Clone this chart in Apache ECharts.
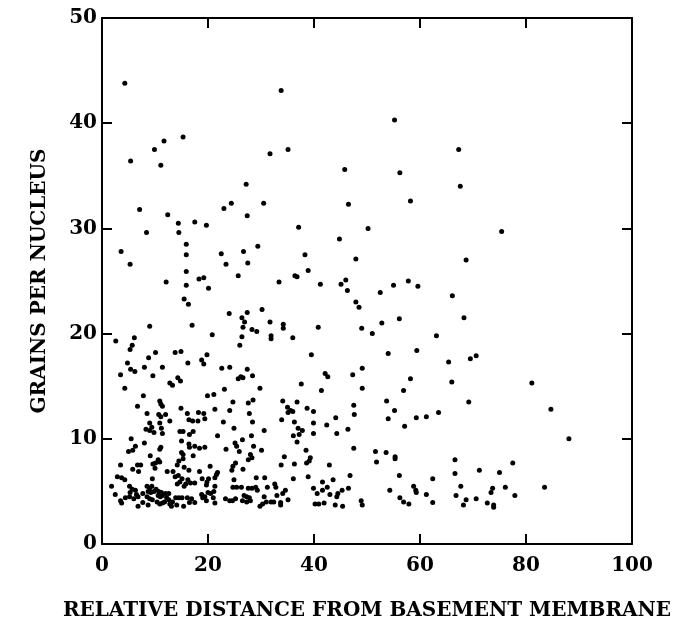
<!DOCTYPE html>
<html>
<head>
<meta charset="utf-8">
<script src="https://cdn.jsdelivr.net/npm/echarts@6/dist/echarts.min.js"></script>
<style>html,body{margin:0;padding:0;background:#fff;}#chart{width:686px;height:627px;}</style>
</head>
<body>
<div id="chart"></div>
<script>
// Axis labels
const xTitle = 'RELATIVE DISTANCE FROM BASEMENT MEMBRANE';
const yTitle = 'GRAINS PER NUCLEUS';
const xTicks = [0, 20, 40, 60, 80, 100];
const yTicks = [0, 10, 20, 30, 40, 50];

// [relative distance, grains per nucleus]
const pointsUpper = [
[4.3,43.8],[33.8,43.1],[15.3,38.7],[11.7,38.3],[9.9,37.5],[5.4,36.4],[11.1,36.0],[31.7,37.1],[35.1,37.5],
[45.8,35.6],[27.2,34.2],[46.5,32.3],[24.4,32.4],[30.5,32.4],[7.1,31.8],[23.0,31.9],[55.2,40.3],[67.3,37.5],
[56.2,35.3],[67.6,34.0],[58.2,32.6]
];
const pointsMiddle = [
[12.4,31.3],[14.4,30.5],[17.5,30.6],[19.7,30.3],[27.4,31.2],[8.4,29.6],[14.5,29.6],[37.1,30.1],[50.2,30.0],
[15.9,28.5],[44.8,29.0],[3.6,27.8],[15.9,27.5],[22.5,27.6],[26.7,27.8],[29.4,28.3],[5.3,26.6],[23.4,26.6],
[27.5,26.7],[38.3,27.5],[47.9,27.1],[15.9,25.9],[38.9,26.0],[25.7,25.5],[36.4,25.5],[36.8,25.4],[18.3,25.2],
[19.2,25.3],[12.1,24.9],[33.4,24.9],[15.9,24.6],[20.1,24.3],[41.2,24.7],[45.1,24.7],[46.0,25.1],[46.3,24.1],
[15.5,23.3],[16.3,22.8],[47.9,23.0],[48.5,22.5],[24.0,21.9],[27.4,22.0],[30.2,22.3],[26.4,21.5],[26.9,21.1],
[31.7,21.1],[34.2,20.9],[34.2,20.5],[40.8,20.6],[49.0,20.5],[9.0,20.7],[17.0,20.8],[26.6,20.6],[28.3,20.4],
[29.2,20.2],[31.9,19.8],[31.9,19.5],[36.0,19.6],[20.8,19.9],[26.4,19.7],[2.6,19.3],[6.1,19.6],[5.7,18.9],
[5.3,18.5],[26.0,18.9],[10.1,18.2],[13.8,18.2],[14.9,18.3],[8.8,17.7],[19.8,18.0],[18.8,17.5],[19.2,17.1],
[39.5,18.0],[4.8,17.2],[16.2,17.2],[5.4,16.6],[6.2,16.4],[8.0,16.8],[11.4,16.8],[22.6,16.7],[24.1,16.8],
[27.4,16.6],[49.1,16.7],[3.5,16.1],[9.6,16.0],[14.3,15.8],[25.7,15.7],[26.2,15.9],[26.6,15.8],[28.4,16.0],
[42.1,16.2],[42.6,15.9],[47.3,16.1],
[75.4,29.7],[68.7,27.0],[57.8,25.0],[55.0,24.6],[59.6,24.5],[52.5,23.9],[66.1,23.6],[56.1,21.4],[52.8,21.0],
[68.3,21.5],[51.0,20.0],[63.1,19.8],[54.0,18.1],[59.4,18.4],[65.4,17.3],[69.5,17.6],[70.6,17.9],[58.2,15.7]
];
const pointsLowerRight = [
[29.8,14.8],[37.6,15.2],[41.4,14.6],[49.1,14.8],[56.9,14.6],[53.7,13.6],[55.2,12.7],[54.0,11.9],[57.1,11.2],
[59.3,12.0],[61.2,12.1],[63.5,12.5],[34.1,13.6],[35.0,13.0],[35.6,12.7],[35.1,12.5],[36.0,12.6],[36.8,13.5],
[38.7,12.9],[39.9,12.6],[33.9,11.8],[36.3,11.6],[39.9,11.5],[44.1,12.0],[47.5,13.2],[47.6,12.3],[30.6,10.8],
[37.0,11.0],[37.8,10.8],[37.2,10.4],[36.1,10.3],[39.9,10.5],[42.4,11.3],[44.3,10.5],[46.4,10.9],[36.8,9.7],
[30.1,8.9],[38.5,8.9],[34.4,8.3],[39.3,8.2],[39.1,7.9],[38.6,7.7],[33.8,7.5],[36.3,7.6],[42.9,7.5],
[47.5,9.1],[51.6,8.8],[53.6,8.7],[55.3,8.3],[55.3,8.1],[51.8,7.8],[38.9,6.4],[36.1,6.2],[30.7,6.3],
[46.8,6.5],[43.6,6.1],[56.1,6.5],[62.4,6.2],[31.2,5.4],[32.6,5.7],[32.8,5.4],[34.6,5.1],[34.1,4.8],
[39.9,5.3],[41.6,5.9],[42.5,5.4],[41.6,5.1],[40.6,4.8],[43.0,4.7],[44.5,4.8],[44.3,4.5],[45.3,5.1],
[46.5,5.3],[33.0,4.6],[30.6,4.5],[31.0,4.0],[31.9,4.0],[32.4,4.0],[33.7,3.95],[33.7,3.7],[35.1,4.2],
[40.2,3.8],[40.9,3.8],[41.9,3.9],[44.0,3.7],[45.4,3.6],[48.9,4.1],[49.1,3.7],[54.3,5.1],[56.2,4.4],
[56.9,4.0],[57.9,3.8],[58.8,5.5],[59.2,5.1],[59.3,4.9],[61.2,4.7],[62.4,3.95],[29.8,3.6],
[66.0,15.4],[81.1,15.3],[69.2,13.5],[84.7,12.8],[88.1,10.0],[66.6,8.0],[66.6,6.7],[71.2,7.0],[75.0,6.8],
[77.5,7.7],[67.7,5.5],[66.8,4.6],[68.7,4.2],[68.2,3.7],[70.6,4.3],[72.7,3.9],[73.4,4.9],[73.7,5.3],
[73.9,3.7],[73.9,3.5],[76.1,5.4],[77.9,4.6],[83.5,5.4]
];
const pointsLowerLeft = [
[12.8,15.3],[13.3,15.1],[14.8,15.5],[4.3,14.8],[7.8,14.1],[6.7,13.1],[10.9,13.6],[11.1,13.3],[11.4,13.1],
[10.7,12.3],[11.1,12.1],[12.0,12.3],[8.5,12.4],[9.0,11.5],[10.9,11.5],[12.8,11.7],[8.3,10.9],[9.0,10.8],
[9.4,11.1],[9.8,10.6],[11.2,11.0],[11.4,10.5],[14.9,12.9],[16.1,12.4],[16.4,11.8],[17.1,11.7],[18.2,12.5],
[19.2,12.4],[19.4,11.9],[18.1,11.7],[21.3,12.8],[19.9,14.1],[21.1,14.2],[23.1,14.7],[24.7,13.5],[27.6,13.4],
[28.5,13.7],[24.1,12.7],[27.8,12.4],[28.4,11.6],[22.9,11.6],[24.9,11.0],[14.7,10.7],[15.3,10.7],[16.5,10.4],
[17.2,10.7],[21.8,10.3],[5.5,10.0],[6.3,9.3],[8.0,9.6],[15.0,9.8],[11.1,9.2],[16.4,9.5],[16.5,9.2],
[17.5,9.3],[18.4,9.1],[19.4,9.2],[25.1,9.6],[25.4,9.3],[26.5,9.9],[28.2,10.3],[28.6,9.3],[5.0,8.8],
[5.8,8.9],[9.1,8.4],[10.9,9.0],[15.0,8.7],[15.3,8.5],[15.3,8.1],[14.5,7.9],[17.2,8.4],[23.4,9.0],
[25.9,8.8],[28.0,8.5],[28.3,8.2],[27.6,8.0],[10.6,8.0],[10.9,7.8],[10.1,7.7],[3.5,7.5],[6.7,7.5],
[7.3,7.5],[9.6,7.6],[10.0,7.2],[5.8,7.1],[6.9,6.9],[14.2,7.5],[15.5,7.3],[20.4,7.4],[24.7,7.4],
[25.2,7.7],[26.6,7.1],[12.3,6.9],[13.4,6.9],[16.4,7.0],[18.4,6.9],[21.8,6.8],[24.5,7.0],[2.9,6.4],
[3.7,6.3],[4.3,6.1],[9.5,6.2],[14.4,6.5],[15.1,6.2],[13.8,6.4],[16.2,6.1],[14.7,5.9],[14.2,5.7],
[15.8,5.7],[15.5,5.5],[16.7,5.8],[17.5,5.8],[18.9,6.2],[20.1,6.2],[19.8,5.9],[19.7,5.6],[21.3,6.3],
[21.6,6.6],[21.3,5.5],[24.9,6.1],[29.1,6.3],[1.8,5.5],[5.2,5.5],[5.7,5.2],[5.3,4.9],[5.2,4.5],
[6.3,5.1],[6.5,4.7],[6.8,4.5],[6.0,4.3],[2.5,4.7],[3.5,4.1],[3.7,3.9],[4.4,4.4],[6.8,3.6],
[7.7,3.95],[7.7,4.8],[8.5,5.5],[9.0,5.3],[9.4,5.5],[8.7,5.0],[9.2,4.9],[9.8,5.0],[8.5,4.5],
[9.0,4.3],[9.5,4.2],[8.7,3.7],[10.2,5.2],[10.7,5.0],[11.2,4.9],[10.6,4.6],[11.0,4.5],[11.4,4.6],
[10.4,4.0],[10.9,3.8],[11.4,3.9],[11.8,4.0],[12.2,4.4],[12.6,4.2],[12.8,3.8],[13.1,3.6],[13.3,4.0],
[12.0,4.8],[12.6,4.8],[13.9,4.4],[14.5,4.4],[15.1,4.4],[14.1,3.7],[15.4,3.6],[16.1,4.4],[16.9,4.3],
[16.5,3.95],[17.5,3.95],[18.8,4.7],[19.0,4.4],[19.4,4.5],[20.0,4.9],[19.7,4.1],[20.5,4.8],[21.1,5.0],
[21.0,4.4],[21.3,3.9],[23.3,4.3],[24.1,4.1],[24.6,4.1],[25.2,4.3],[24.7,5.4],[25.4,5.4],[26.3,5.4],
[26.8,4.6],[27.3,4.5],[27.8,4.4],[26.5,4.1],[27.3,4.0],[28.0,4.1],[27.6,5.3],[28.3,5.3],[29.0,5.4],
[29.3,5.1],[30.3,3.8]
];

const allPoints = pointsUpper.concat(pointsMiddle, pointsLowerRight, pointsLowerLeft);

const FONT = 'DejaVu Serif';
const labelStyle = {fontFamily: FONT, fontWeight: 'bold', fontSize: 20, color: '#000'};
const lineStyle = {color: '#000', width: 2};

function frameAxis(extra) {
  return Object.assign({
    type: 'value',
    axisLine: {show: true, onZero: false, lineStyle: lineStyle},
    axisTick: {show: true, inside: true, length: 10, lineStyle: lineStyle},
    splitLine: {show: false}
  }, extra);
}

const chart = echarts.init(document.getElementById('chart'), null, {renderer: 'canvas'});
chart.setOption({
  animation: false,
  backgroundColor: '#fff',
  grid: {left: 102, right: 54, top: 18, bottom: 83},
  xAxis: [
    frameAxis({position: 'bottom', min: xTicks[0], max: xTicks[xTicks.length - 1], interval: 20,
      axisLabel: Object.assign({margin: 12}, labelStyle),
      name: xTitle, nameLocation: 'middle', nameGap: 57,
      nameTextStyle: labelStyle}),
    frameAxis({position: 'top', min: xTicks[0], max: xTicks[xTicks.length - 1], interval: 20,
      axisLabel: {show: false}})
  ],
  yAxis: [
    frameAxis({position: 'left', min: yTicks[0], max: yTicks[yTicks.length - 1], interval: 10,
      axisLabel: Object.assign({margin: 5}, labelStyle),
      name: yTitle, nameLocation: 'middle', nameGap: 52,
      nameTextStyle: labelStyle}),
    frameAxis({position: 'right', min: yTicks[0], max: yTicks[yTicks.length - 1], interval: 10,
      axisLabel: {show: false}})
  ],
  series: [{
    type: 'scatter',
    xAxisIndex: 0,
    yAxisIndex: 0,
    data: allPoints,
    symbol: 'circle',
    symbolSize: 5,
    itemStyle: {color: '#000', opacity: 1}
  }]
});
</script>
</body>
</html>
